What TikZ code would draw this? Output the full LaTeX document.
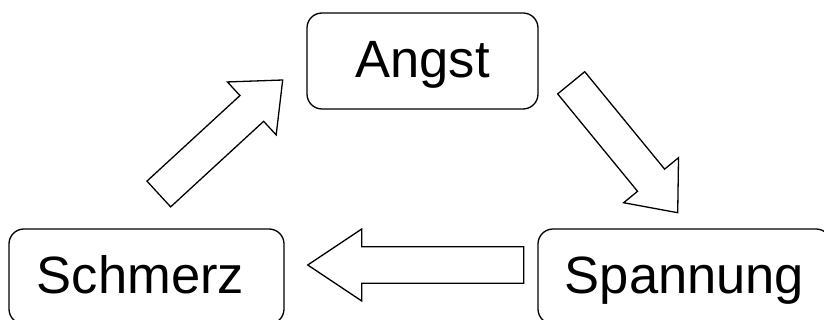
\documentclass[tikz,border=0pt]{standalone}
\usepackage{fontspec}
\setmainfont{Liberation Sans}
\usetikzlibrary{calc}

% tail, tip, half shaft, half head, head length
\newcommand{\blockarrow}[5]{%
  \coordinate (ba-h) at ($(#2)!#5!(#1)$);
  \draw[blockarrow] ($(#1)!#3!90:(#2)$) -- ($(ba-h)!#3!90:(#2)$) -- ($(ba-h)!#4!90:(#2)$)
    -- (#2) -- ($(ba-h)!#4!-90:(#2)$) -- ($(ba-h)!#3!-90:(#2)$) -- ($(#1)!#3!-90:(#2)$) -- cycle;
}

\begin{document}
\begin{tikzpicture}
        [%%%%%%%%%%%%%%%%%%%%%%%%%%%%%%
        x=1pt,y=-1pt,
        box/.style={rectangle,draw=black,line width=1.3pt,rounded corners=15pt,
          inner sep=0pt,text height=40pt,text depth=6pt,
          font=\fontsize{52.5}{60}\selectfont},
        blockarrow/.style={draw=black,line width=1.3pt,fill=white},
        ]%%%%%%%%%%%%%%%%%%%%%%%%%%%%%%

        \useasboundingbox (0,0) rectangle (824,320);
        \clip (0,0) rectangle (824,320);

        \node[box,minimum width=231pt,minimum height=96pt] (angst) at (422.5,61) {Angst};
        \node[box,minimum width=275pt,minimum height=95pt] (schmerz) at (146.5,276.5) {\hspace*{-12pt}Schmerz};
        \node[box,minimum width=293pt,minimum height=95pt] (spannung) at (684.5,276.5) {Spannung};

        \coordinate (s-tail) at (158.8,194);
        \coordinate (s-tip) at (282.7,80);
        \coordinate (a-tail) at (571.2,82.8);
        \coordinate (a-tip) at (677.7,212.7);
        \coordinate (p-tail) at (523.7,265);
        \coordinate (p-tip) at (307.7,265);

        \blockarrow{s-tail}{s-tip}{17.5pt}{36pt}{42pt}
        \blockarrow{a-tail}{a-tip}{17.5pt}{35.5pt}{42pt}
        \blockarrow{p-tail}{p-tip}{18.3pt}{36pt}{54pt}
      \end{tikzpicture}
\end{document}
